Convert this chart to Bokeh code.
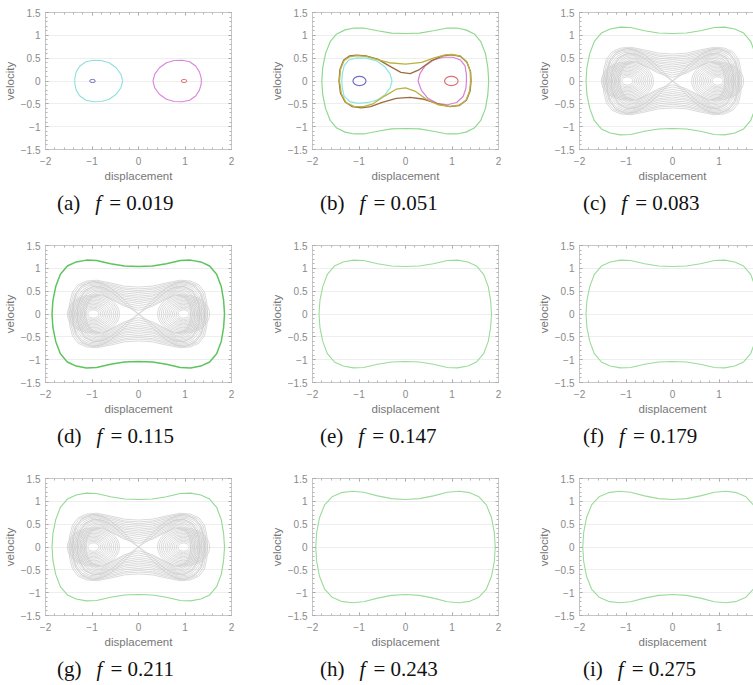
from bokeh.plotting import figure
from bokeh.layouts import column, row
from bokeh.models import Range1d, LinearAxis, SingleIntervalTicker, CustomJSTickFormatter
from bokeh.core.properties import value
from bokeh.embed import file_html
from bokeh.resources import INLINE

# ---------------- data ----------------
panel_letters = ["(a)", "(b)", "(c)", "(d)", "(e)", "(f)", "(g)", "(h)", "(i)"]
forcing_values = ["0.019", "0.051", "0.083", "0.115", "0.147", "0.179", "0.211", "0.243", "0.275"]

# panel (a): small orbits in each well
a_cyan_x = [-0.34, -0.38, -0.48, -0.63, -0.80, -0.97, -1.13, -1.26, -1.34, -1.37, -1.37, -1.34, -1.26, -1.13, -0.97, -0.80, -0.63, -0.48, -0.38, -0.34]
a_cyan_y = [0.0, 0.15, 0.29, 0.40, 0.45, 0.455, 0.42, 0.33, 0.20, 0.06, -0.06, -0.20, -0.33, -0.42, -0.455, -0.45, -0.40, -0.29, -0.15, 0.0]
a_mag_x = [0.31, 0.35, 0.45, 0.60, 0.77, 0.94, 1.10, 1.23, 1.31, 1.35, 1.35, 1.31, 1.23, 1.10, 0.94, 0.77, 0.60, 0.45, 0.35, 0.31]
a_mag_y = [0.0, 0.15, 0.29, 0.40, 0.45, 0.455, 0.42, 0.33, 0.20, 0.06, -0.06, -0.20, -0.33, -0.42, -0.455, -0.45, -0.40, -0.29, -0.15, 0.0]
a_dot_x = [-0.99, 0.98]
a_dot_w = [0.12, 0.12]
a_dot_h = [0.07, 0.07]

# panel (b)
b_cyan_x = [-0.29, -0.33, -0.45, -0.62, -0.85, -1.05, -1.22, -1.32, -1.36, -1.37, -1.36, -1.32, -1.20, -1.02, -0.80, -0.60, -0.44, -0.33, -0.29]
b_cyan_y = [0.0, 0.15, 0.32, 0.44, 0.50, 0.505, 0.46, 0.33, 0.15, 0.0, -0.15, -0.33, -0.45, -0.49, -0.47, -0.41, -0.30, -0.15, 0.0]
b_mag_x = [0.27, 0.31, 0.42, 0.60, 0.82, 1.02, 1.18, 1.28, 1.31, 1.31, 1.30, 1.24, 1.10, 0.90, 0.68, 0.48, 0.34, 0.27]
b_mag_y = [0.0, 0.16, 0.33, 0.46, 0.52, 0.52, 0.46, 0.33, 0.15, 0.0, -0.16, -0.34, -0.47, -0.52, -0.49, -0.38, -0.20, 0.0]
b_olive_x = [-1.42, -1.40, -1.32, -1.20, -1.05, -0.85, -0.60, -0.35, 0.00, 0.35, 0.60, 0.85, 1.00, 1.18, 1.32, 1.39, 1.40, 1.38, 1.30, 1.15, 0.95, 0.70, 0.45, 0.20, 0.00, -0.20, -0.45, -0.70, -0.90, -1.10, -1.28, -1.38, -1.42]
b_olive_y = [0.0, 0.25, 0.45, 0.53, 0.555, 0.54, 0.47, 0.40, 0.37, 0.41, 0.50, 0.57, 0.58, 0.55, 0.42, 0.22, 0.0, -0.22, -0.42, -0.53, -0.555, -0.52, -0.40, -0.22, -0.15, -0.18, -0.33, -0.50, -0.56, -0.56, -0.47, -0.28, 0.0]
b_brown_x = [-1.43, -1.41, -1.33, -1.20, -1.05, -0.85, -0.60, -0.35, -0.10, 0.10, 0.30, 0.55, 0.80, 1.00, 1.18, 1.32, 1.40, 1.41, 1.39, 1.31, 1.15, 0.95, 0.70, 0.40, 0.10, -0.20, -0.50, -0.75, -0.95, -1.15, -1.30, -1.40, -1.43]
b_brown_y = [0.0, 0.25, 0.46, 0.55, 0.565, 0.55, 0.48, 0.33, 0.19, 0.16, 0.25, 0.44, 0.55, 0.57, 0.54, 0.41, 0.20, 0.0, -0.22, -0.42, -0.54, -0.56, -0.50, -0.40, -0.36, -0.38, -0.47, -0.56, -0.59, -0.56, -0.46, -0.26, 0.0]
b_dot_x = [-0.99, 0.985]
b_dot_w = [0.28, 0.29]
b_dot_h = [0.20, 0.20]

# large green orbit (upper half; the lower half is its mirror image)
green_b_x = [-1.80, -1.78, -1.72, -1.62, -1.48, -1.30, -1.10, -0.90, -0.60, -0.30, 0.00, 0.30, 0.60, 0.90, 1.10, 1.30, 1.48, 1.62, 1.72, 1.77, 1.79]
green_b_y = [0.0, 0.30, 0.60, 0.86, 1.03, 1.12, 1.16, 1.16, 1.10, 1.05, 1.04, 1.05, 1.10, 1.16, 1.16, 1.12, 1.03, 0.86, 0.60, 0.30, 0.0]
green_m_x = [-1.86, -1.84, -1.78, -1.68, -1.53, -1.34, -1.12, -0.90, -0.60, -0.30, 0.00, 0.30, 0.60, 0.90, 1.12, 1.34, 1.53, 1.68, 1.78, 1.83, 1.85]
green_m_y = [0.0, 0.30, 0.60, 0.87, 1.05, 1.14, 1.18, 1.17, 1.10, 1.05, 1.04, 1.05, 1.10, 1.17, 1.18, 1.14, 1.05, 0.87, 0.60, 0.30, 0.0]
green_l_x = [-1.93, -1.91, -1.85, -1.74, -1.58, -1.38, -1.15, -0.90, -0.60, -0.30, 0.00, 0.30, 0.60, 0.90, 1.15, 1.38, 1.58, 1.74, 1.85, 1.91, 1.93]
green_l_y = [0.0, 0.32, 0.64, 0.92, 1.10, 1.19, 1.22, 1.20, 1.12, 1.06, 1.04, 1.06, 1.12, 1.20, 1.22, 1.19, 1.10, 0.92, 0.64, 0.32, 0.0]

# gray chaotic band: upper halves of peanut-shaped passes (lower half mirrored)
gray_passes = [
    ([-1.50, -1.48, -1.42, -1.30, -1.12, -0.90, -0.60, -0.30, 0.00, 0.30, 0.60, 0.90, 1.12, 1.30, 1.42, 1.47, 1.48],
     [0.0, 0.25, 0.48, 0.64, 0.72, 0.74, 0.68, 0.61, 0.59, 0.61, 0.68, 0.74, 0.72, 0.64, 0.48, 0.25, 0.0]),
    ([-1.47, -1.45, -1.39, -1.27, -1.10, -0.89, -0.60, -0.30, 0.00, 0.30, 0.60, 0.89, 1.10, 1.27, 1.39, 1.44, 1.45],
     [0.0, 0.24, 0.46, 0.62, 0.695, 0.715, 0.65, 0.57, 0.55, 0.57, 0.65, 0.715, 0.695, 0.62, 0.46, 0.24, 0.0]),
    ([-1.44, -1.42, -1.36, -1.24, -1.08, -0.88, -0.60, -0.30, 0.00, 0.30, 0.60, 0.88, 1.08, 1.24, 1.36, 1.41, 1.42],
     [0.0, 0.23, 0.44, 0.59, 0.67, 0.69, 0.62, 0.54, 0.51, 0.54, 0.62, 0.69, 0.67, 0.59, 0.44, 0.23, 0.0]),
    ([-1.41, -1.39, -1.33, -1.22, -1.06, -0.87, -0.60, -0.30, 0.00, 0.30, 0.60, 0.87, 1.06, 1.22, 1.33, 1.38, 1.39],
     [0.0, 0.22, 0.42, 0.57, 0.645, 0.665, 0.59, 0.50, 0.47, 0.50, 0.59, 0.665, 0.645, 0.57, 0.42, 0.22, 0.0]),
    ([-1.38, -1.36, -1.30, -1.19, -1.04, -0.86, -0.60, -0.30, 0.00, 0.30, 0.60, 0.86, 1.04, 1.19, 1.30, 1.35, 1.36],
     [0.0, 0.21, 0.40, 0.54, 0.62, 0.64, 0.56, 0.46, 0.43, 0.46, 0.56, 0.64, 0.62, 0.54, 0.40, 0.21, 0.0]),
    ([-1.35, -1.33, -1.27, -1.17, -1.02, -0.85, -0.60, -0.30, 0.00, 0.30, 0.60, 0.85, 1.02, 1.17, 1.27, 1.32, 1.33],
     [0.0, 0.20, 0.38, 0.51, 0.59, 0.61, 0.53, 0.42, 0.39, 0.42, 0.53, 0.61, 0.59, 0.51, 0.38, 0.20, 0.0]),
    ([-1.32, -1.30, -1.24, -1.14, -1.00, -0.84, -0.60, -0.30, 0.00, 0.30, 0.60, 0.84, 1.00, 1.14, 1.24, 1.29, 1.30],
     [0.0, 0.19, 0.36, 0.49, 0.565, 0.585, 0.50, 0.39, 0.35, 0.39, 0.50, 0.585, 0.565, 0.49, 0.36, 0.19, 0.0]),
    ([-1.29, -1.27, -1.21, -1.12, -0.98, -0.83, -0.60, -0.30, 0.00, 0.30, 0.60, 0.83, 0.98, 1.12, 1.21, 1.26, 1.27],
     [0.0, 0.18, 0.34, 0.46, 0.54, 0.56, 0.47, 0.35, 0.31, 0.35, 0.47, 0.56, 0.54, 0.46, 0.34, 0.18, 0.0]),
    ([-1.26, -1.24, -1.19, -1.10, -0.97, -0.82, -0.60, -0.30, 0.00, 0.30, 0.60, 0.82, 0.97, 1.10, 1.19, 1.23, 1.24],
     [0.0, 0.17, 0.32, 0.44, 0.51, 0.53, 0.44, 0.32, 0.27, 0.32, 0.44, 0.53, 0.51, 0.44, 0.32, 0.17, 0.0]),
    ([-1.23, -1.21, -1.16, -1.07, -0.95, -0.81, -0.60, -0.30, 0.00, 0.30, 0.60, 0.81, 0.95, 1.07, 1.16, 1.20, 1.21],
     [0.0, 0.16, 0.30, 0.41, 0.48, 0.50, 0.41, 0.28, 0.23, 0.28, 0.41, 0.50, 0.48, 0.41, 0.30, 0.16, 0.0]),
    ([-1.20, -1.18, -1.13, -1.05, -0.94, -0.80, -0.60, -0.30, 0.00, 0.30, 0.60, 0.80, 0.94, 1.05, 1.13, 1.17, 1.18],
     [0.0, 0.15, 0.28, 0.38, 0.45, 0.47, 0.38, 0.24, 0.18, 0.24, 0.38, 0.47, 0.45, 0.38, 0.28, 0.15, 0.0]),
    ([-1.17, -1.15, -1.10, -1.03, -0.92, -0.79, -0.60, -0.30, 0.00, 0.30, 0.60, 0.79, 0.92, 1.03, 1.10, 1.14, 1.15],
     [0.0, 0.14, 0.26, 0.36, 0.42, 0.44, 0.35, 0.20, 0.13, 0.20, 0.35, 0.44, 0.42, 0.36, 0.26, 0.14, 0.0]),
    ([-1.14, -1.12, -1.08, -1.01, -0.91, -0.78, -0.60, -0.30, 0.00, 0.30, 0.60, 0.78, 0.91, 1.01, 1.08, 1.11, 1.12],
     [0.0, 0.13, 0.24, 0.34, 0.40, 0.42, 0.33, 0.17, 0.08, 0.17, 0.33, 0.42, 0.40, 0.34, 0.24, 0.13, 0.0]),
    # figure-eight passes through the saddle at the centre
    ([-1.42, -1.40, -1.34, -1.22, -1.00, -0.80, -0.60, -0.40, -0.20, 0.00, 0.20, 0.40, 0.60, 0.80, 1.00, 1.22, 1.34, 1.40, 1.42],
     [0.0, 0.24, 0.45, 0.62, 0.71, 0.68, 0.57, 0.40, 0.20, 0.0, 0.20, 0.40, 0.57, 0.68, 0.71, 0.62, 0.45, 0.24, 0.0]),
    ([-1.32, -1.30, -1.24, -1.14, -0.96, -0.76, -0.56, -0.40, -0.20, 0.00, 0.20, 0.40, 0.56, 0.76, 0.96, 1.14, 1.24, 1.30, 1.32],
     [0.0, 0.19, 0.37, 0.52, 0.61, 0.58, 0.47, 0.32, 0.14, 0.0, 0.14, 0.32, 0.47, 0.58, 0.61, 0.52, 0.37, 0.19, 0.0]),
]
# rings around each well centre
ring_cx = [-0.97, 0.97]
ring_w = [0.24, 0.32, 0.40, 0.48, 0.56, 0.64, 0.72, 0.80, 0.88, 0.96, 1.04, 1.12]
ring_h = [0.18, 0.24, 0.30, 0.36, 0.42, 0.48, 0.54, 0.60, 0.66, 0.72, 0.78, 0.84]

# ---------------- styling / layout ----------------
GRAY = "#cacaca"
FW, FH = 186, 137
LEFT, RIGHT, TOP, BOTTOM = 41, 36, 12, 36
COLW = 263
CAP_FONT = "Liberation Serif"
CAP_SIZE = 21
# approximate advance widths (in em) of Liberation Serif glyphs used in the captions
ADV = {"(": 0.333, ")": 0.333, "a": 0.444, "b": 0.5, "c": 0.444, "d": 0.5, "e": 0.444,
       "f": 0.333, "g": 0.5, "h": 0.5, "i": 0.278}


def mirror(xu, yu):
    xs = list(xu) + list(reversed(xu))
    ys = list(yu) + [-v for v in reversed(yu)]
    return xs, ys


def style_axis(ax, labels=True):
    ax.axis_line_color = "#c6c6c6"
    ax.major_tick_line_color = "#9a9a9a"
    ax.minor_tick_line_color = "#b4b4b4"
    ax.major_tick_in = 3
    ax.major_tick_out = 0
    ax.minor_tick_in = 2
    ax.minor_tick_out = 0
    if labels:
        ax.major_label_text_font = "Liberation Sans"
        ax.major_label_text_font_size = "10px"
        ax.major_label_text_color = "#8a8a8a"
        ax.axis_label_text_font = "Liberation Sans"
        ax.axis_label_text_font_size = "11.5px"
        ax.axis_label_text_font_style = "normal"
        ax.axis_label_text_color = "#777777"
        ax.axis_label_standoff = 2
    else:
        ax.major_label_text_font_size = "0px"
        ax.major_label_standoff = 0
        ax.formatter = CustomJSTickFormatter(code="return ''")


def make_panel():
    p = figure(frame_width=FW, frame_height=FH,
               min_border_left=LEFT, min_border_right=RIGHT,
               min_border_top=TOP, min_border_bottom=BOTTOM,
               x_range=Range1d(-2, 2), y_range=Range1d(-1.5, 1.5),
               x_axis_label="displacement", y_axis_label="velocity",
               output_backend="svg", toolbar_location=None)
    p.xaxis.ticker = SingleIntervalTicker(interval=1, num_minor_ticks=5)
    p.yaxis.ticker = SingleIntervalTicker(interval=0.5, num_minor_ticks=5)
    p.xaxis.major_label_standoff = 7
    p.yaxis.major_label_standoff = 5
    for ax in p.xaxis + p.yaxis:
        style_axis(ax)
    ra = LinearAxis(ticker=SingleIntervalTicker(interval=0.5, num_minor_ticks=5))
    ta = LinearAxis(ticker=SingleIntervalTicker(interval=1, num_minor_ticks=5))
    style_axis(ra, False)
    style_axis(ta, False)
    p.add_layout(ra, "right")
    p.add_layout(ta, "above")
    p.xgrid.visible = False
    p.ygrid.grid_line_color = "#eeeeee"
    p.outline_line_color = "#c6c6c6"
    return p


def caption_row(r, h):
    c = figure(width=3 * COLW, height=h, x_range=Range1d(0, 3 * COLW), y_range=Range1d(h, 0),
               x_axis_type=None, y_axis_type=None, min_border=0,
               output_backend="svg", toolbar_location=None)
    c.outline_line_color = None
    c.grid.visible = False
    base = 17
    common = dict(text_font=value(CAP_FONT), text_font_size=f"{CAP_SIZE}px",
                  text_baseline="alphabetic", text_align="left", text_color="#111111")
    for col in range(3):
        i = 3 * r + col
        x0 = col * COLW + LEFT + 15.5
        w = sum(ADV[ch] for ch in panel_letters[i]) * CAP_SIZE
        fx = x0 + w + 15
        c.text(x=[x0], y=[base], text=[panel_letters[i]], **common)
        c.text(x=[fx], y=[base], text=["f"], text_font_style="italic", **common)
        c.text(x=[fx + 14], y=[base], text=["="], **common)
        c.text(x=[fx + 31], y=[base], text=[forcing_values[i]], **common)
    return c


def draw_gray(p):
    for xu, yu in gray_passes:
        xs, ys = mirror(xu, yu)
        p.line(xs, ys, line_color=GRAY, line_width=0.7)
    for cx in ring_cx:
        p.ellipse(x=[cx] * len(ring_w), y=[0] * len(ring_w), width=ring_w, height=ring_h,
                  fill_color=None, line_color=GRAY, line_width=0.7)


def draw_green(p, xu, yu, color, width):
    xs, ys = mirror(xu, yu)
    p.line(xs, ys, line_color=color, line_width=width)


figs = []
for i in range(9):
    p = make_panel()
    if i == 0:
        p.line(a_cyan_x, a_cyan_y, line_color="#8fe0dc", line_width=1.1)
        p.line(a_mag_x, a_mag_y, line_color="#d985d9", line_width=1.1)
        p.ellipse(x=a_dot_x[:1], y=[0], width=a_dot_w[:1], height=a_dot_h[:1],
                  fill_color=None, line_color="#7070c8", line_width=1)
        p.ellipse(x=a_dot_x[1:], y=[0], width=a_dot_w[1:], height=a_dot_h[1:],
                  fill_color=None, line_color="#e07878", line_width=1)
    elif i == 1:
        draw_green(p, green_b_x, green_b_y, "#8fd98f", 1.2)
        p.line(b_cyan_x, b_cyan_y, line_color="#8fe3e3", line_width=1.2)
        p.line(b_mag_x, b_mag_y, line_color="#d97fd9", line_width=1.2)
        p.line(b_brown_x, b_brown_y, line_color="#9b6b40", line_width=1.3)
        p.line(b_olive_x, b_olive_y, line_color="#bab23c", line_width=1.3)
        p.ellipse(x=b_dot_x[:1], y=[0], width=b_dot_w[:1], height=b_dot_h[:1],
                  fill_color=None, line_color="#6f6fc4", line_width=1.2)
        p.ellipse(x=b_dot_x[1:], y=[0], width=b_dot_w[1:], height=b_dot_h[1:],
                  fill_color=None, line_color="#e07070", line_width=1.2)
    elif i in (2, 3, 6):
        draw_gray(p)
        if i == 3:
            draw_green(p, green_m_x, green_m_y, "#5ec45e", 1.5)
        else:
            draw_green(p, green_m_x, green_m_y, "#93d993", 1.1)
    elif i in (4, 5):
        draw_green(p, green_m_x, green_m_y, "#9adc9a", 1.1)
    else:
        draw_green(p, green_l_x, green_l_y, "#9adc9a", 1.1)
    figs.append(p)

layout = column(
    row(figs[0:3]), caption_row(0, 48),
    row(figs[3:6]), caption_row(1, 48),
    row(figs[6:9]), caption_row(2, 34),
)
open("out.html", "w").write(file_html(layout, INLINE))
